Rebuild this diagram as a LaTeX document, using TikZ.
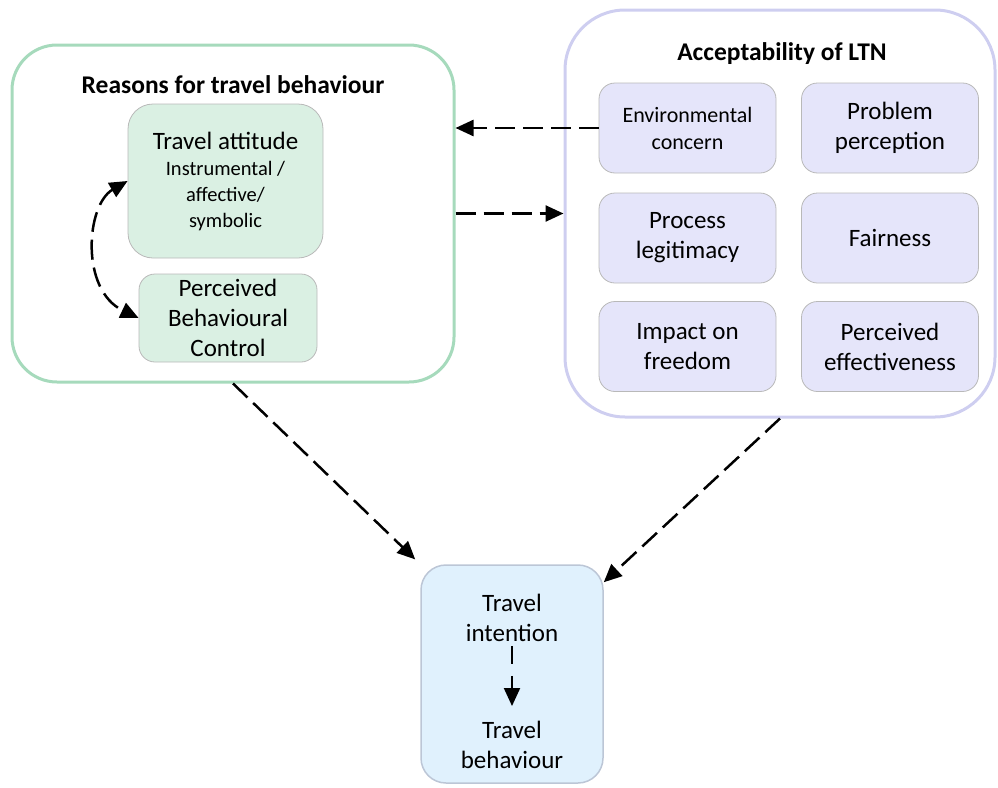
\documentclass[tikz,border=0pt]{standalone}
\usepackage{fontspec}
\setmainfont{Carlito}
\usetikzlibrary{arrows.meta,calc}
\definecolor{gborder}{RGB}{166,218,188}
\definecolor{gfill}{RGB}{218,240,227}
\definecolor{lborder}{RGB}{206,206,240}
\definecolor{lfill}{RGB}{229,229,250}
\definecolor{bfill}{RGB}{224,241,253}
\definecolor{bborder}{RGB}{188,198,214}
\definecolor{ibord}{RGB}{185,185,185}
\begin{document}
\begin{tikzpicture}[x=1pt,y=-1pt,
  bigfont/.style={font=\fontsize{25}{30}\selectfont},
  outerbox/.style={line width=3pt, inner sep=0pt},
  innerbox/.style={draw=ibord, line width=0.8pt, inner sep=0pt, align=center, bigfont},
  greenbox/.style={innerbox, fill=gfill, rounded corners=25pt},
  lavbox/.style={innerbox, fill=lfill, rounded corners=16pt, minimum width=177pt, minimum height=90pt},
  dashline/.style={line width=2.5pt, dash pattern=on 20pt off 8pt},
  dasharrow/.style={dashline, -{Triangle[length=18pt,width=16pt]}},
  titlefont/.style={font=\fontsize{25.5}{30}\selectfont\bfseries}
]
\useasboundingbox (0,0) rectangle (998,787);

% left outer
\node[outerbox, draw=gborder, rounded corners=45pt, minimum width=442pt, minimum height=337pt] (L) at (233,213.5) {};
\node[titlefont] (Lt) at (233,85) {Reasons for travel behaviour};
\node[greenbox, minimum width=195pt, minimum height=154pt, font=\fontsize{20.5}{26}\selectfont] (ta) at (225.5,181)
  {{\fontsize{25}{26}\selectfont Travel attitude}\\Instrumental /\\affective/\\symbolic};
\node[greenbox, rounded corners=16pt, minimum width=178pt, minimum height=88pt] (pbc) at (228,318)
  {Perceived\\Behavioural\\Control};

% right outer
\node[outerbox, draw=lborder, rounded corners=60pt, minimum width=430pt, minimum height=407pt] (R) at (780,213.5) {};
\node[titlefont] (Rt) at (782,54) {Acceptability of LTN};
\node[lavbox, font=\fontsize{22}{27}\selectfont] (env) at (687.5,128) {Environmental\\concern};
\node[lavbox] (prob) at (890,128) {Problem\\perception};
\node[lavbox] (proc) at (687.5,238) {Process\\legitimacy};
\node[lavbox] (fair) at (890,238) {Fairness};
\node[lavbox] (imp) at (687.5,346.5) {Impact on\\freedom};
\node[lavbox] (eff) at (890,346.5) {Perceived\\effectiveness};

% bottom box
\node[draw=bborder, line width=1.5pt, fill=bfill, rounded corners=25pt, minimum width=182pt, minimum height=218pt, inner sep=0pt] (B) at (512,674) {};
\node[bigfont, align=center, inner sep=0pt] (ti) at (512,618) {Travel\\intention};
\node[bigfont, align=center, inner sep=0pt] (tb) at (512,745) {Travel\\behaviour};

% connectors
\draw[dasharrow] (env.west) -- (env.west -| L.east);
\draw[dasharrow] (L.east) -- (R.west);
\draw[dashline, {Triangle[length=18pt,width=16pt]}-{Triangle[length=18pt,width=16pt]}]
  (ta.west) .. controls (86,205) and (80,290) .. (pbc.west);
\draw[dasharrow, shorten >=7pt] (L.south) -- (B.north west);
\coordinate (Bin) at ([yshift=-18pt]B.north east);
\draw[dasharrow] (R.south) -- (Bin);
\draw[dasharrow, line width=2pt, dash pattern=on 18pt off 12pt] ([yshift=-4pt]ti.south) -- ([yshift=15pt]tb.north);
\end{tikzpicture}
\end{document}
